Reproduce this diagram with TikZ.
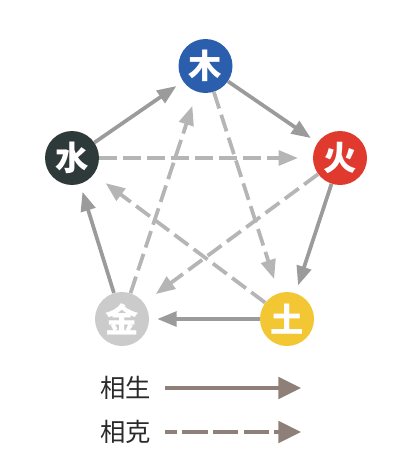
\documentclass[tikz,border=0pt]{standalone}
\usepackage{fontspec}
\newfontfamily\cjk{Noto Sans CJK SC}
\usetikzlibrary{arrows.meta}
\definecolor{muC}{HTML}{2B5FAD}
\definecolor{shuiC}{HTML}{2E3A39}
\definecolor{huoC}{HTML}{E0392E}
\definecolor{jinC}{HTML}{CBCBCB}
\definecolor{tuC}{HTML}{F2C733}
\definecolor{solidC}{HTML}{9B9B9B}
\definecolor{dashC}{HTML}{B5B5B5}
\definecolor{legC}{HTML}{8E7F78}
\definecolor{txtC}{HTML}{2A2A2A}
\begin{document}
\begin{tikzpicture}[x=0.75pt,y=-0.75pt,
  elem/.style={circle,minimum size=40.5pt,inner sep=0pt,text=white,font=\cjk\bfseries\fontsize{25}{25}\selectfont},
  gen/.style={draw=solidC,line width=2.8pt,-{Triangle[length=14.5pt,width=11pt]},shorten >=6pt},
  ke/.style={draw=dashC,line width=2.8pt,dash pattern=on 13pt off 5pt,-{Triangle[length=14.5pt,width=11pt]},shorten >=11pt},
  leglabel/.style={text=txtC,font=\cjk\fontsize{19}{19}\selectfont,anchor=east},
  legarrow/.style={draw=legC,line width=3pt,-{Triangle[length=17pt,width=16pt]}}]
\useasboundingbox (0,0) rectangle (400,467);
\node[elem,fill=muC] (mu) at (205.5,66) {木};
\node[elem,fill=shuiC] (shui) at (72,158) {水};
\node[elem,fill=huoC] (huo) at (340,158) {火};
\node[elem,fill=jinC] (jin) at (122,319) {金};
\node[elem,fill=tuC] (tu) at (287,319) {土};
% overcoming (dashed)
\draw[ke] (mu) -- (tu);
\draw[ke] (tu) -- (shui);
\draw[ke] (shui) -- (huo);
\draw[ke] (huo) -- (jin);
\draw[ke] (jin) -- (mu);
% generating (solid)
\draw[gen] (mu) -- (huo);
\draw[gen] (huo) -- (tu);
\draw[gen] (tu) -- (jin);
\draw[gen] (jin) -- (shui);
\draw[gen] (shui) -- (mu);
% legend
\node[leglabel] (l1) at (156,388) {相生};
\node[leglabel] (l2) at (156,432) {相克};
\coordinate (a1s) at (165,388);
\coordinate (a1e) at (301,388);
\coordinate (a2s) at (165,432);
\coordinate (a2e) at (301,432);
\draw[legarrow] (a1s) -- (a1e);
\draw[legarrow,dash pattern=on 19pt off 4pt,dash phase=10pt] (a2s) -- (a2e);
\end{tikzpicture}
\end{document}
